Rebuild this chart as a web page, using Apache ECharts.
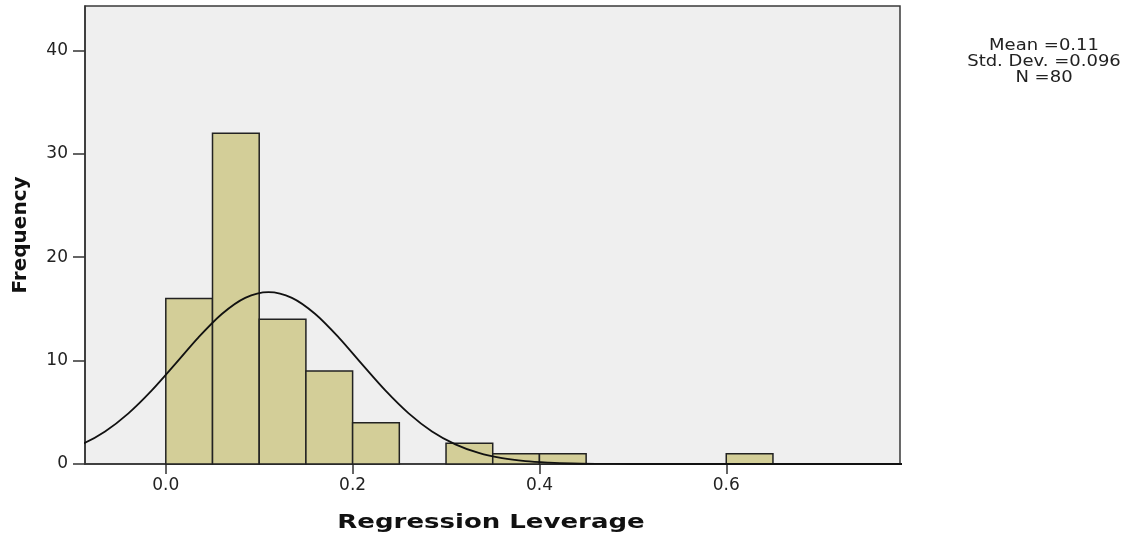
<!DOCTYPE html>
<html>
<head>
<meta charset="utf-8">
<script src="https://cdn.jsdelivr.net/npm/echarts@6/dist/echarts.min.js"></script>
<style>
html,body{margin:0;padding:0;background:#fff;}
#chart{width:1131px;height:541px;}
</style>
</head>
<body>
<div id="chart"></div>
<script>
// Histogram bins (lower edge) and frequencies
const binStarts = [0.00, 0.05, 0.10, 0.15, 0.20, 0.30, 0.35, 0.40, 0.60];
const binCounts = [16, 32, 14, 9, 4, 2, 1, 1, 1];
const binWidth = 0.05;

// Normal curve
const curveX = [-0.115, -0.09, -0.065, -0.04, -0.015, 0.01, 0.035, 0.06, 0.085, 0.11, 0.135, 0.16, 0.185, 0.21, 0.235, 0.26, 0.285, 0.31, 0.335, 0.36, 0.385, 0.41, 0.435, 0.46, 0.5, 0.6, 0.7, 0.8];
const curveY = [1.07, 1.9, 3.15, 4.9, 7.12, 9.66, 12.25, 14.51, 16.07, 16.62, 16.07, 14.51, 12.25, 9.66, 7.12, 4.9, 3.15, 1.9, 1.07, 0.56, 0.27, 0.13, 0.05, 0.02, 0.0, 0.0, 0.0, 0.0];

const xTicks = [0.0, 0.2, 0.4, 0.6];
const yTicks = [0, 10, 20, 30, 40];

const statLines = ['Mean =0.11', 'Std. Dev. =0.096', 'N =80'];
const xTitle = 'Regression Leverage';
const yTitle = 'Frequency';

const chart = echarts.init(document.getElementById('chart'), null, {renderer: 'canvas'});

const barData = binStarts.map((s, i) => [s, binCounts[i]]);
const lineData = curveX.map((x, i) => [x, curveY[i]]);

const option = {
  animation: false,
  backgroundColor: '#ffffff',
  grid: {
    left: 85, right: 231, top: 6, bottom: 77,
    show: true,
    backgroundColor: '#efefef',
    borderColor: '#3a3a3a',
    borderWidth: 1.5
  },
  xAxis: {
    type: 'value',
    min: -0.0865,
    max: 0.786,
    splitLine: {show: false},
    axisLine: {show: true, onZero: false, lineStyle: {color: '#333', width: 1.5}},
    axisTick: {show: true, length: 10, customValues: xTicks, lineStyle: {color: '#333', width: 1.5}},
    axisLabel: {
      customValues: xTicks,
      margin: 13,
      color: '#222',
      fontFamily: 'DejaVu Sans',
      fontSize: 17,
      formatter: v => v.toFixed(1)
    }
  },
  yAxis: {
    type: 'value',
    min: 0,
    max: 44.3,
    splitLine: {show: false},
    axisLine: {show: true, onZero: false, lineStyle: {color: '#333', width: 1.5}},
    axisTick: {show: true, length: 12, customValues: yTicks, lineStyle: {color: '#333', width: 1.5}},
    axisLabel: {
      customValues: yTicks,
      margin: 17,
      color: '#222',
      fontFamily: 'DejaVu Sans',
      fontSize: 17
    }
  },
  series: [
    {
      type: 'custom',
      z: 2,
      data: barData,
      renderItem: function (params, api) {
        const x0 = api.value(0);
        const c = api.value(1);
        const p1 = api.coord([x0, c]);
        const p2 = api.coord([x0 + binWidth, 0]);
        return {
          type: 'rect',
          shape: {x: p1[0], y: p1[1], width: p2[0] - p1[0], height: p2[1] - p1[1]},
          style: {fill: '#d3ce98', stroke: '#222', lineWidth: 1.5}
        };
      }
    },
    {
      type: 'line',
      z: 3,
      data: lineData,
      smooth: 0.3,
      showSymbol: false,
      symbol: 'none',
      clip: true,
      lineStyle: {color: '#111', width: 1.8}
    }
  ],
  graphic: [
    {
      type: 'text',
      x: 1044, y: 62,
      scaleX: 1.2,
      style: {
        text: statLines.join('\n'),
        font: '15px "DejaVu Sans"',
        fill: '#222',
        align: 'center',
        verticalAlign: 'middle',
        lineHeight: 16
      }
    },
    {
      type: 'text',
      x: 491, y: 523,
      scaleX: 1.3,
      style: {
        text: xTitle,
        font: 'bold 20px "DejaVu Sans"',
        fill: '#111',
        align: 'center',
        verticalAlign: 'middle'
      }
    },
    {
      type: 'text',
      x: 21, y: 235,
      rotation: Math.PI / 2,
      style: {
        text: yTitle,
        font: 'bold 20px "DejaVu Sans"',
        fill: '#111',
        align: 'center',
        verticalAlign: 'middle'
      }
    }
  ]
};

chart.setOption(option);
</script>
</body>
</html>
